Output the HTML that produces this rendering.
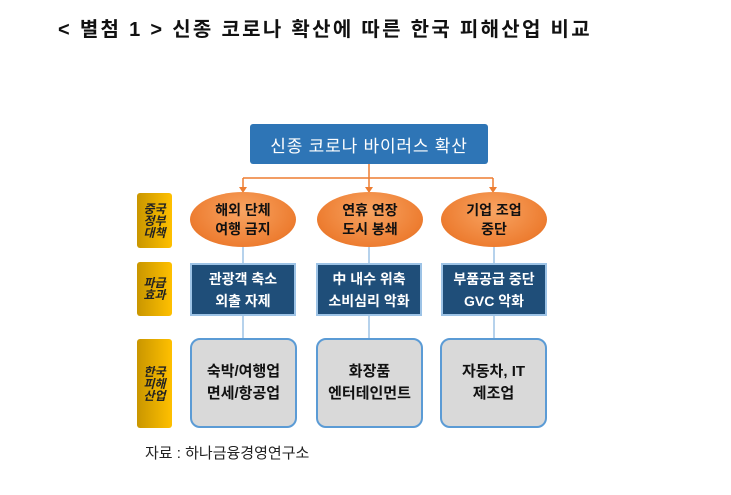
<!DOCTYPE html>
<html><head><meta charset="utf-8"><style>
body{margin:0;width:731px;height:495px;background:#fff;position:relative;font-family:"Liberation Sans","Noto Sans CJK KR",sans-serif;overflow:hidden}
.a{position:absolute;box-sizing:border-box;display:flex;align-items:center;justify-content:center;text-align:center}
.t{left:58px;top:13px;font-size:20px;font-weight:bold;color:#111;position:absolute;letter-spacing:2.3px;white-space:nowrap}
.top{left:250px;top:124px;width:238px;height:40px;background:#2e75b6;color:#fff;font-size:17px;letter-spacing:0.8px;border-radius:3px}
.el{top:192px;width:106px;height:55px;border-radius:50%;background:radial-gradient(ellipse at 50% 35%,#f8a462,#ed7d31 70%,#d8681c);color:#111;font-size:14px;font-weight:bold;line-height:19px}
.y{left:137px;width:35px;background:linear-gradient(90deg,#c99600,#ffc000);border-radius:3px;font-size:12px;font-style:italic;font-weight:bold;line-height:12px;color:#222}
.d{top:263px;width:106px;height:53px;background:#1f4e79;border:2px solid #9dc3e6;color:#fff;font-size:14px;font-weight:bold;line-height:22px}
.g{top:338px;width:107px;height:90px;background:#d9d9d9;border:2px solid #5b9bd5;border-radius:10px;font-size:15px;font-weight:bold;line-height:22px;color:#111}
</style></head><body>
<div class="t">&lt; 별첨 1 &gt; 신종 코로나 확산에 따른 한국 피해산업 비교</div>
<svg width="731" height="495" style="position:absolute;left:0;top:0">
<g stroke="#ed7d31" stroke-width="1.5" fill="none"><path d="M369 164V192M243 178H493M243 178V191M493 178V191"/></g>
<g fill="#ed7d31"><path d="M239 187h8l-4 6z"/><path d="M365 187h8l-4 6z"/><path d="M489 187h8l-4 6z"/></g>
<g stroke="#9dc3e6" stroke-width="1.5"><path d="M243 247V263M369 247V263M494 247V263M243 316V338M369 316V338M494 316V338"/></g>
</svg>
<div class="a top">신종 코로나 바이러스 확산</div>
<div class="a y" style="top:193px;height:55px">중국<br>정부<br>대책</div>
<div class="a y" style="top:262px;height:54px">파급<br>효과</div>
<div class="a y" style="top:339px;height:89px">한국<br>피해<br>산업</div>
<div class="a el" style="left:190px">해외 단체<br>여행 금지</div>
<div class="a el" style="left:317px">연휴 연장<br>도시 봉쇄</div>
<div class="a el" style="left:441px">기업 조업<br>중단</div>
<div class="a d" style="left:190px">관광객 축소<br>외출 자제</div>
<div class="a d" style="left:316px">中 내수 위축<br>소비심리 악화</div>
<div class="a d" style="left:441px">부품공급 중단<br>GVC 악화</div>
<div class="a g" style="left:190px">숙박/여행업<br>면세/항공업</div>
<div class="a g" style="left:316px">화장품<br>엔터테인먼트</div>
<div class="a g" style="left:440px">자동차, IT<br>제조업</div>
<div style="position:absolute;left:145px;top:442px;font-size:15px;color:#222;white-space:nowrap">자료 : 하나금융경영연구소</div>
</body></html>
